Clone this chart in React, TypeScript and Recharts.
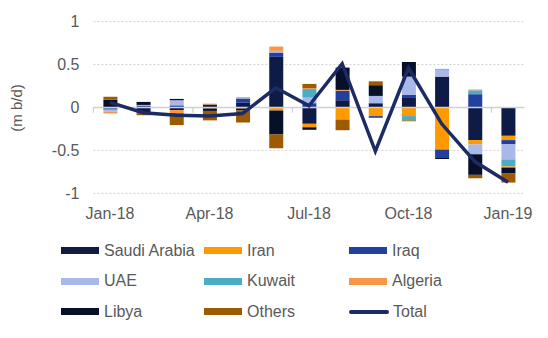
import React from 'react';
import {
  ComposedChart,
  Bar,
  Line,
  XAxis,
  YAxis,
  CartesianGrid,
  ReferenceLine,
  Legend,
  Label,
} from 'recharts';

const months = [
  'Jan-18', 'Feb-18', 'Mar-18', 'Apr-18', 'May-18', 'Jun-18', 'Jul-18',
  'Aug-18', 'Sep-18', 'Oct-18', 'Nov-18', 'Dec-18', 'Jan-19',
];

// m b/d change by country
const saudi = [-0.01, -0.06, -0.03, 0.035, 0.055, 0.59, -0.19, 0.085, 0.05, 0.12, 0.36, -0.38, -0.33];
const iran = [0, 0, 0, -0.01, -0.01, -0.035, -0.04, -0.14, -0.1, -0.1, -0.49, -0.05, -0.05];
const iraq = [-0.015, 0.02, 0.025, 0, 0.05, 0.05, 0.05, 0.11, -0.02, 0.03, -0.09, 0.155, -0.05];
const uae = [-0.025, -0.005, 0.06, 0, 0.005, 0.02, 0.065, 0, 0.085, 0.21, 0.08, -0.115, -0.175];
const kuwait = [0, 0, 0, 0, 0, 0, 0.1, 0, 0, -0.05, 0.01, 0.045, -0.08];
const algeria = [-0.02, 0.01, -0.035, 0.01, 0.01, 0.05, 0.01, 0.01, 0, 0, 0, 0.01, -0.015];
const libya = [0.09, 0.035, 0.015, -0.03, -0.025, -0.28, -0.03, 0.26, 0.125, 0.17, -0.02, -0.24, -0.07];
const others = [0.035, -0.025, -0.14, -0.11, -0.14, -0.16, 0.05, -0.125, 0.045, -0.01, 0, -0.04, -0.105];
const total = [0.06, -0.06, -0.09, -0.1, -0.07, 0.23, 0.02, 0.51, -0.51, 0.46, -0.19, -0.63, -0.87];

const yTicks = [-1, -0.5, 0, 0.5, 1];
const boundaryMonths = ['Jan-18', 'Apr-18', 'Jul-18', 'Oct-18', 'Jan-19'];

const series = [
  { name: 'Saudi Arabia', values: saudi, color: '#0E1B47' },
  { name: 'Iran', values: iran, color: '#FF9900' },
  { name: 'Iraq', values: iraq, color: '#2140A0' },
  { name: 'UAE', values: uae, color: '#A8B8EA' },
  { name: 'Kuwait', values: kuwait, color: '#4BACC6' },
  { name: 'Algeria', values: algeria, color: '#F79646' },
  { name: 'Libya', values: libya, color: '#071029' },
  { name: 'Others', values: others, color: '#9C5B00' },
];
const totalColor = '#1C2B63';

const data = months.map((m, i) => {
  const row: Record<string, string | number> = { month: m, Total: total[i] };
  series.forEach((s) => {
    row[s.name] = s.values[i];
  });
  return row;
});

const font = '"Liberation Sans", Arial, sans-serif';
const textColor = '#595959';

const legendItems = [...series.map((s) => ({ name: s.name, color: s.color, line: false })), { name: 'Total', color: totalColor, line: true }];

function renderLegend() {
  return (
    <div
      style={{
        display: 'grid',
        gridTemplateColumns: '143px 145px 150px',
        gridAutoRows: '30.5px',
        paddingLeft: 61,
        fontFamily: font,
        fontSize: 16,
        color: textColor,
      }}
    >
      {legendItems.map((it) => (
        <div key={it.name} style={{ display: 'flex', alignItems: 'center', whiteSpace: 'nowrap' }}>
          {it.line ? (
            <svg width={40} height={8} style={{ marginRight: 4 }}>
              <line x1={2} y1={4} x2={38} y2={4} stroke={it.color} strokeWidth={4} strokeLinecap="round" />
            </svg>
          ) : (
            <span style={{ display: 'inline-block', width: 38, height: 7, background: it.color, marginRight: 5 }} />
          )}
          <span>{it.name}</span>
        </div>
      ))}
    </div>
  );
}

export default function App() {
  return (
    <div style={{ position: 'absolute', left: 0, top: 0, width: 548, height: 338, background: '#fff' }}>
      <ComposedChart
        width={548}
        height={338}
        data={data}
        stackOffset="sign"
        margin={{ top: 21.7, right: 23.4, bottom: 114.7, left: 0 }}
      >
        <CartesianGrid vertical={false} stroke="#D0D0D0" strokeDasharray="2 2" />
        <XAxis
          dataKey="month"
          interval={2}
          axisLine={false}
          tickLine={false}
          tickSize={0}
          tickMargin={14}
          height={30}
          tick={{ fill: textColor, fontSize: 16, fontFamily: font }}
        />
        <YAxis
          domain={[-1, 1]}
          ticks={yTicks}
          width={93.4}
          axisLine={false}
          tickLine={false}
          tickSize={0}
          tickMargin={14}
          tick={{ fill: textColor, fontSize: 16, fontFamily: font }}
        >
          <Label
            content={() => (
              <text
                x={18}
                y={108}
                transform="rotate(-90 18 108)"
                textAnchor="middle"
                dominantBaseline="middle"
                fill={textColor}
                fontSize={15}
                fontFamily={font}
              >
                (m b/d)
              </text>
            )}
          />
        </YAxis>
        {series.map((s) => (
          <Bar key={s.name} dataKey={s.name} stackId="a" fill={s.color} barSize={14} isAnimationActive={false} />
        ))}
        <ReferenceLine y={0} stroke="#D0D0D0" strokeWidth={1.3} />
        {boundaryMonths.map((m) => (
          <ReferenceLine
            key={m}
            segment={[{ x: m, y: 0 }, { x: m, y: -0.06 }]}
            position="start"
            stroke="#D0D0D0"
            strokeWidth={1.3}
          />
        ))}
        <Line
          dataKey="Total"
          type="linear"
          stroke={totalColor}
          strokeWidth={3.5}
          dot={false}
          isAnimationActive={false}
        />
        <Legend
          layout="horizontal"
          verticalAlign="middle"
          align="center"
          wrapperStyle={{ top: 235.5, left: 0, width: 548 }}
          content={renderLegend}
        />
      </ComposedChart>
    </div>
  );
}
